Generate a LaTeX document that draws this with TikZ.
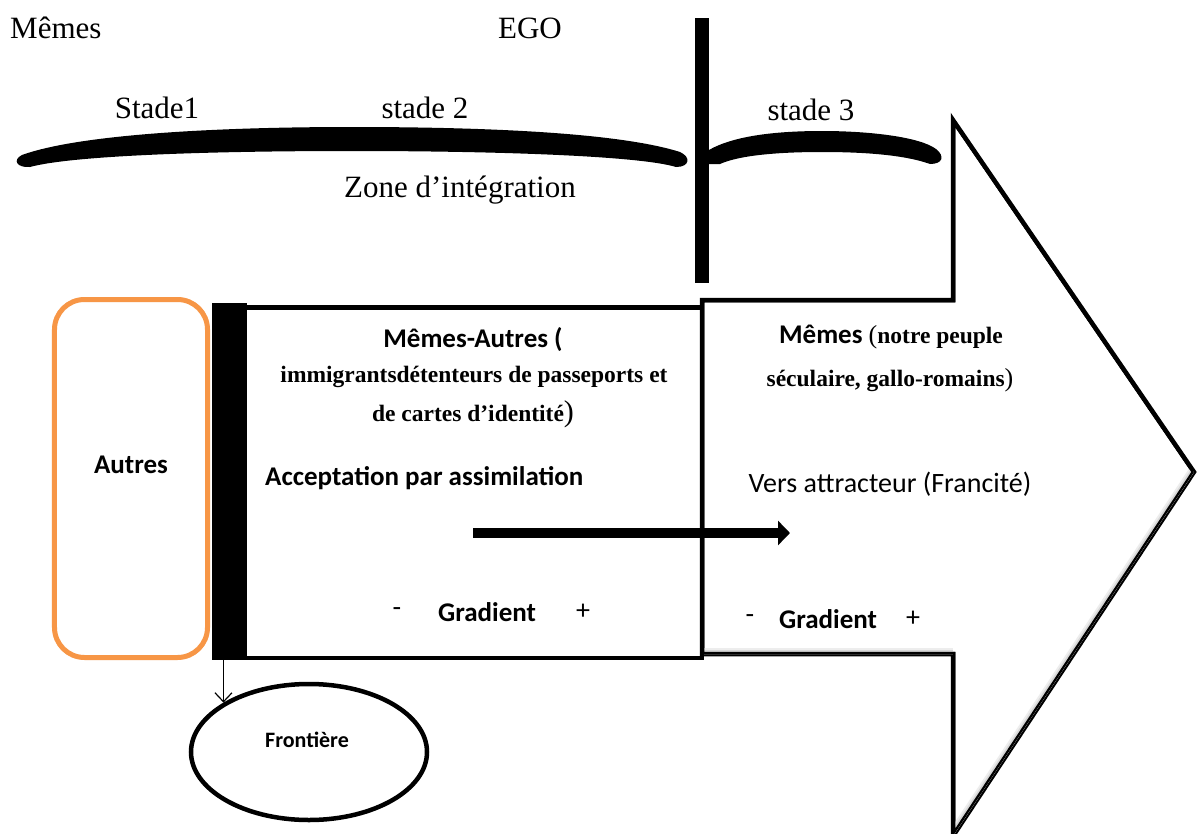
\documentclass[tikz,border=0pt]{standalone}
\usepackage{fontspec}
\setmainfont{Liberation Serif}
\newfontfamily\calfont{Carlito}
\usetikzlibrary{arrows.meta,shapes.geometric}
\definecolor{autresorange}{RGB}{247,150,70}
\begin{document}
\begin{tikzpicture}[x=1bp,y=-1bp,
  serif/.style={font=\fontsize{31bp}{36bp}\selectfont, inner sep=0pt},
  sansb/.style={font=\calfont\bfseries\fontsize{27bp}{32bp}\selectfont, inner sep=0pt},
  sansr/.style={font=\calfont\fontsize{28bp}{32bp}\selectfont, inner sep=0pt},
  garb/.style={font=\bfseries\fontsize{23.5bp}{28bp}\selectfont, inner sep=0pt},
  thickline/.style={line width=4.5bp, line join=miter}]
\useasboundingbox (0,0) rectangle (1197,834);
\fill[white] (0,0) rectangle (1197,834);

% big arrow
\path[draw, thickline, fill=white] (702,300) -- (953,300) -- (953,120) -- (1194,472) -- (953,836) -- (953,654) -- (702,654) -- cycle;
\begin{scope}
  \clip (702,300) -- (953,300) -- (953,120) -- (1194,472) -- (953,836) -- (953,654) -- (702,654) -- cycle;
  \draw[line width=12bp, black!7] (702,654) -- (953,654);
  \draw[line width=12bp, black!7] (953,836) -- (1194,472);
  \draw[line width=8bp, black!16] (702,654) -- (953,654);
  \draw[line width=8bp, black!16] (953,836) -- (1194,472);
  \draw[thickline] (702,300) -- (953,300) -- (953,120) -- (1194,472) -- (953,836) -- (953,654) -- (702,654) -- cycle;
\end{scope}

% top labels
\node[serif, anchor=west] (memes) at (10,28) {Mêmes};
\node[serif] (ego) at (530,28) {EGO};
\node[serif] (s1) at (157,108) {Stade1};
\node[serif] (s2) at (425,108) {stade 2};
\node[serif] (s3) at (811,110) {stade 3};
\node[serif] (zone) at (460,190) {Zone d’intégration};

% braces
\fill (30,167) .. controls (17,168) and (12,160) .. (22,155) .. controls (80,134) and (220,127) .. (352,127) .. controls (490,127) and (620,133) .. (680,152) .. controls (691,157) and (690,167) .. (676,167) .. controls (640,156) and (500,151) .. (352,151) .. controls (200,151) and (70,156) .. (30,167) -- cycle;
\fill (709,150) .. controls (735,135) and (780,131) .. (822,131) .. controls (870,131) and (920,137) .. (936,149) .. controls (945,156) and (943,164) .. (930,164) .. controls (905,155) and (865,152) .. (822,152) .. controls (780,152) and (740,155) .. (720,164) -- (709,164) -- cycle;

% vertical bar EGO
\fill (695,18) rectangle (709,283);

% horizontal arrow
\coordinate (h1) at (473,533);
\coordinate (h2) at (790,533);
\draw[line width=10bp, -{Triangle[length=12bp,width=24bp]}] (h1) -- (h2);

% main box
\draw[thickline] (245,307.5) rectangle (702,658);
\node[fill=black, inner sep=0pt, minimum width=35bp, minimum height=357bp] (bar) at (229,481.5) {};

% Autres
\node[draw=autresorange, line width=5bp, rounded corners=30bp, minimum width=153bp, minimum height=358bp, inner sep=0pt] (autres) at (131,478.5) {};
\node[sansb] (autrest) at (131,465) {Autres};

% frontiere
\node[draw, ellipse, line width=4.5bp, minimum width=236bp, minimum height=136bp, inner sep=0pt] (front) at (309,752) {};
\node[sansb, font=\calfont\bfseries\fontsize{22bp}{26bp}\selectfont] (frontt) at (307,740) {Frontière};
\draw[line width=1.2bp, -{Straight Barb[length=9bp,width=17bp]}] (bar.south -| front.150) -- (front.150);

% box texts
\node[sansb] (ma) at (473,340) {Mêmes-Autres (};
\node[garb] (ma2) at (474,377) {immigrantsdétenteurs de passeports et};
\node[garb] (ma3) at (473,414) {de cartes d’identité\textmd{\fontsize{30bp}{30bp}\selectfont)}};
\node[sansb, anchor=west] (acc) at (265,478) {Acceptation par assimilation};
\node[sansr] (gm1) at (397,612) {-};
\node[sansb] (g1) at (487,612) {Gradient};
\node[sansr] (gp1) at (583,612) {+};

% right texts
\node[inner sep=0pt] (mm) at (891,337) {{\calfont\bfseries\fontsize{27bp}{32bp}\selectfont Mêmes\ }{\bfseries\fontsize{23.5bp}{28bp}\selectfont\textmd{\fontsize{26bp}{28bp}\selectfont(}notre peuple}};
\node[garb] (mm2) at (890,380) {séculaire, gallo-romains\textmd{\fontsize{26bp}{28bp}\selectfont)}};
\node[sansr] (vers) at (890,484) {Vers attracteur (Francité)};
\node[sansr] (gm2) at (750,619) {-};
\node[sansb] (g2) at (828,619) {Gradient};
\node[sansr] (gp2) at (913,619) {+};
\end{tikzpicture}
\end{document}
